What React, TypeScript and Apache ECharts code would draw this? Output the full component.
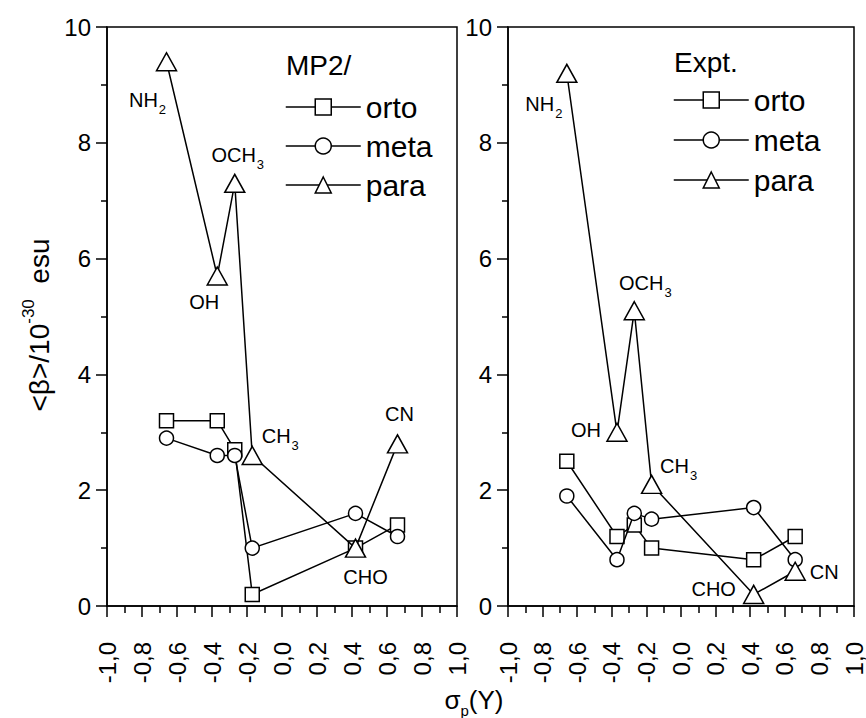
import React, { useEffect, useRef } from 'react';
import * as echarts from 'echarts';

// sigma_p substituent constants (x) and substituent names
const sigmaP = [-0.66, -0.37, -0.27, -0.17, 0.42, 0.66];
const substituents = ['NH2', 'OH', 'OCH3', 'CH3', 'CHO', 'CN'];

// <beta>/10^-30 esu, MP2 panel
const mp2Orto = [3.2, 3.2, 2.7, 0.2, 1.0, 1.4];
const mp2Meta = [2.9, 2.6, 2.6, 1.0, 1.6, 1.2];
const mp2Para = [9.4, 5.7, 7.3, 2.6, 1.0, 2.8];

// <beta>/10^-30 esu, experimental panel
const exptOrto = [2.5, 1.2, 1.4, 1.0, 0.8, 1.2];
const exptMeta = [1.9, 0.8, 1.6, 1.5, 1.7, 0.8];
const exptPara = [9.2, 3.0, 5.1, 2.1, 0.2, 0.6];

const seriesNames = ['orto', 'meta', 'para'];
const panelTitles = ['MP2/', 'Expt.'];
const xMin = -1, xMax = 1, xStep = 0.2;
const yMin = 0, yMax = 10, yStep = 2;

const FONT = '"Liberation Sans", Arial, Helvetica, sans-serif';

// label offsets (px) of substituent annotations relative to para points
const labelOffsets = [
  [[-19, 38], [-13, 26], [3, -28], [28, -19], [10, 29], [2, -30]],
  [[-23, 31], [-31, -2], [11, -28], [27, -18], [-40, -5], [29, 1]],
];

const symbols = ['rect', 'circle', 'triangle'];
const symbolSizes: any[] = [14, 14, [20, 18]];

function richName(s: string) {
  const m = s.match(/^(.*?)(\d+)$/);
  if (m) return `{n|${m[1]}}{s|${m[2]}}`;
  return `{n|${s}}`;
}

const labelRich = {
  n: { fontSize: 20, fontFamily: FONT, color: '#000', lineHeight: 20, verticalAlign: 'top' },
  s: { fontSize: 13, fontFamily: FONT, color: '#000', lineHeight: 13, padding: [13, 0, 0, 1], verticalAlign: 'top' },
};

export default function App() {
  const ref = useRef<HTMLDivElement>(null);
  useEffect(() => {
    if (!ref.current) return;
    const chart = echarts.init(ref.current, null, { renderer: 'svg' });
    const panels = [
      [mp2Orto, mp2Meta, mp2Para],
      [exptOrto, exptMeta, exptPara],
    ];
    const grids = [
      { left: 107, top: 27, width: 350, height: 579 },
      { left: 508, top: 27, width: 349, height: 579 },
    ].map((g) => ({ ...g, show: true, borderColor: '#000', borderWidth: 1.5, backgroundColor: 'transparent' }));

    const xAxes = [0, 1].map((i) => ({
      type: 'value', gridIndex: i, min: xMin, max: xMax, interval: xStep,
      axisLine: { show: true, onZero: false, lineStyle: { color: '#000', width: 1.5 } },
      axisTick: { show: true, inside: false, length: 11, lineStyle: { color: '#000', width: 1.5 } },
      minorTick: { show: true, splitNumber: 2, length: 7, lineStyle: { color: '#000', width: 1.5 } },
      splitLine: { show: false },
      axisLabel: {
        rotate: 90, margin: 36, fontSize: 24, fontFamily: FONT, color: '#000',
        formatter: (v: number) => v.toFixed(1).replace('.', ','),
      },
    }));
    const yAxes = [0, 1].map((i) => ({
      type: 'value', gridIndex: i, min: yMin, max: yMax, interval: yStep,
      axisLine: { show: true, onZero: false, lineStyle: { color: '#000', width: 1.5 } },
      axisTick: { show: true, inside: false, length: 11, lineStyle: { color: '#000', width: 1.5 } },
      minorTick: { show: true, splitNumber: 2, length: 6, lineStyle: { color: '#000', width: 1.5 } },
      splitLine: { show: false },
      axisLabel: { margin: 16, fontSize: 24, fontFamily: FONT, color: '#000' },
    }));

    const series: any[] = [];
    panels.forEach((sets, p) => {
      sets.forEach((vals, k) => {
        series.push({
          type: 'line', name: seriesNames[k], xAxisIndex: p, yAxisIndex: p,
          symbol: symbols[k], symbolSize: symbolSizes[k],
          lineStyle: { color: '#000', width: 1.5 },
          itemStyle: { color: '#fff', borderColor: '#000', borderWidth: 1.5 },
          z: 2 + k,
          data: vals.map((v, j) => {
            const d: any = { value: [sigmaP[j], v] };
            if (k === 2) {
              d.label = {
                show: true, position: 'inside', align: 'center', verticalAlign: 'middle',
                offset: labelOffsets[p][j], formatter: richName(substituents[j]), rich: labelRich,
              };
            }
            return d;
          }),
        });
      });
    });

    const legendBase = {
      orient: 'vertical', itemWidth: 75, itemHeight: 20, padding: 0,
      data: seriesNames,
      selectedMode: false,
      textStyle: { fontSize: 30, fontFamily: FONT, color: '#000', lineHeight: 30 },
      itemStyle: { color: '#fff', borderColor: '#000', borderWidth: 1.5 },
      lineStyle: { color: '#000', width: 1.5 },
    };

    chart.setOption({
      animation: false,
      backgroundColor: '#fff',
      grid: grids,
      xAxis: xAxes,
      yAxis: yAxes,
      legend: [
        { ...legendBase, left: 285, top: 92, itemGap: 9 },
        { ...legendBase, left: 673, top: 85, itemGap: 10 },
      ],
      series,
      graphic: [
        { type: 'text', left: 286, top: 51, style: { text: panelTitles[0], fontSize: 28, fontFamily: FONT, fill: '#000' } },
        { type: 'text', left: 674, top: 48, style: { text: panelTitles[1], fontSize: 28, fontFamily: FONT, fill: '#000' } },
        {
          type: 'text', x: 35, y: 325, rotation: Math.PI / 2,
          style: {
            text: '{a|<β>/10}{b|-30}{a|  esu}', align: 'center', verticalAlign: 'middle',
            rich: {
              a: { fontSize: 28, fontFamily: FONT, fill: '#000', lineHeight: 30, padding: [5, 0, 0, 0], verticalAlign: 'top' },
              b: { fontSize: 17, fontFamily: FONT, fill: '#000', lineHeight: 17, verticalAlign: 'top' },
            },
          },
        },
        {
          type: 'text', x: 474, y: 701,
          style: {
            text: '{a|σ}{b|p}{a|(Y)}', align: 'center', verticalAlign: 'middle',
            rich: {
              a: { fontSize: 26, fontFamily: FONT, fill: '#000', lineHeight: 28, verticalAlign: 'top' },
              b: { fontSize: 15, fontFamily: FONT, fill: '#000', lineHeight: 15, padding: [16, 0, 0, 0], verticalAlign: 'top' },
            },
          },
        },
      ],
    });
    return () => chart.dispose();
  }, []);
  return <div ref={ref} style={{ position: 'fixed', left: 0, top: 0, width: 866, height: 718, background: '#fff' }} />;
}
